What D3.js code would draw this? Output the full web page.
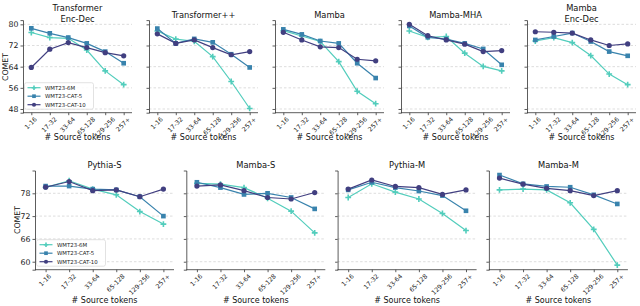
<!DOCTYPE html>
<html>
<head>
<meta charset="utf-8">
<script src="https://cdn.jsdelivr.net/npm/d3@7/dist/d3.min.js"></script>
<style>
  body { margin: 0; background: #fff; }
  svg { display: block; font-family: "DejaVu Sans", sans-serif; }
</style>
</head>
<body>
<svg id="chart" width="640" height="306"></svg>
<script>
// categories and series
var buckets = ["1-16", "17-32", "33-64", "65-128", "129-256", "257+"];
var seriesNames = ["WMT23-6M", "WMT23-CAT-5", "WMT23-CAT-10"];
var colors = ["#52cdbc", "#3983ad", "#413f80"];
var markers = ["plus", "square", "circle"];

// top row
var transEncDec6M  = [76.9, 75.0, 74.7, 70.3, 62.4, 57.2];
var transEncDecC5  = [78.5, 76.6, 75.0, 72.8, 69.7, 65.3];
var transEncDecC10 = [63.7, 70.6, 73.1, 71.2, 69.3, 68.1];

var transPP6M  = [77.5, 74.4, 73.6, 67.8, 58.4, 48.2];
var transPPC5  = [78.4, 72.8, 74.5, 73.2, 68.7, 63.7];
var transPPC10 = [76.4, 72.8, 74.1, 71.2, 68.5, 69.7];

var mamba6M  = [77.6, 75.6, 73.5, 65.9, 54.7, 50.0];
var mambaC5  = [78.1, 76.2, 73.7, 72.8, 65.3, 59.7];
var mambaC10 = [77.0, 74.1, 71.5, 71.2, 66.8, 66.2];

var mambaMHA6M  = [77.5, 75.1, 75.4, 69.1, 64.1, 62.4];
var mambaMHAC5  = [79.4, 75.1, 74.4, 72.8, 70.7, 64.7];
var mambaMHAC10 = [80.0, 75.7, 74.1, 72.5, 69.7, 70.1];

var mambaEncDec6M  = [73.7, 75.0, 73.1, 68.2, 61.2, 57.2];
var mambaEncDecC5  = [74.1, 75.4, 76.7, 73.5, 69.7, 68.1];
var mambaEncDecC10 = [77.2, 77.0, 76.7, 74.1, 72.0, 72.6];

// bottom row
var pythiaS6M  = [79.6, 81.3, 79.1, 77.6, 73.2, 69.9];
var pythiaSC5  = [79.9, 79.9, 79.1, 78.9, 77.1, 72.0];
var pythiaSC10 = [79.6, 81.1, 78.7, 78.9, 77.1, 79.1];

var mambaS6M  = [80.6, 80.4, 79.5, 76.7, 73.3, 67.6];
var mambaSC5  = [80.9, 79.5, 77.7, 78.0, 76.9, 73.9];
var mambaSC10 = [79.9, 80.2, 78.7, 76.9, 76.5, 78.2];

var pythiaM6M  = [76.9, 80.5, 78.3, 76.5, 72.7, 68.2];
var pythiaMC5  = [78.9, 80.9, 79.5, 78.6, 77.4, 73.4];
var pythiaMC10 = [79.1, 81.5, 79.8, 79.5, 77.7, 78.9];

var mambaM6M  = [78.9, 79.1, 78.9, 75.5, 68.5, 59.1];
var mambaMC5  = [82.8, 80.5, 79.8, 79.6, 77.6, 75.2];
var mambaMC10 = [82.0, 80.4, 79.3, 78.7, 77.4, 78.7];

var topTicks = [48, 56, 64, 72, 80];
var bottomTicks = [60, 66, 72, 78];

var topPanels = [
  { title: ["Transformer", "Enc-Dec"], data: [transEncDec6M, transEncDecC5, transEncDecC10], legend: true },
  { title: ["Transformer++"], data: [transPP6M, transPPC5, transPPC10] },
  { title: ["Mamba"], data: [mamba6M, mambaC5, mambaC10] },
  { title: ["Mamba-MHA"], data: [mambaMHA6M, mambaMHAC5, mambaMHAC10] },
  { title: ["Mamba", "Enc-Dec"], data: [mambaEncDec6M, mambaEncDecC5, mambaEncDecC10] }
];
var bottomPanels = [
  { title: ["Pythia-S"], data: [pythiaS6M, pythiaSC5, pythiaSC10], legend: true },
  { title: ["Mamba-S"], data: [mambaS6M, mambaSC5, mambaSC10] },
  { title: ["Pythia-M"], data: [pythiaM6M, pythiaMC5, pythiaMC10] },
  { title: ["Mamba-M"], data: [mambaM6M, mambaMC5, mambaMC10] }
];

var svg = d3.select("#chart");

function drawMarker(g, type, color, size) {
  if (type == "plus") {
    g.append("path")
      .attr("d", "M" + (-size) + ",0H" + size + "M0," + (-size) + "V" + size)
      .attr("stroke", color).attr("stroke-width", 1.6).attr("fill", "none");
  } else if (type == "square") {
    g.append("rect")
      .attr("x", -size * 0.8).attr("y", -size * 0.8)
      .attr("width", size * 1.6).attr("height", size * 1.6)
      .attr("fill", color);
  } else {
    g.append("circle").attr("r", size * 0.9).attr("fill", color);
  }
}

function drawPanel(p, left, width, top, bottom, domain, ticks, showYLabels, titleBase, xlabelBase) {
  var g = svg.append("g");
  var step = width / 5.9;
  var x = d3.scalePoint().domain(buckets).range([left + step * 0.45, left + width - step * 0.45]);
  var y = d3.scaleLinear().domain(domain).range([bottom, top]);

  // grid
  g.selectAll(".grid").data(ticks).enter().append("line")
    .attr("x1", left).attr("x2", left + width)
    .attr("y1", function(d) { return y(d); }).attr("y2", function(d) { return y(d); })
    .attr("stroke", "#cfcfcf").attr("stroke-width", 0.7).attr("stroke-dasharray", "2.5,2");

  // y axis
  var yAxis = d3.axisLeft(y).tickValues(ticks).tickSize(2.5).tickPadding(2)
    .tickFormat(showYLabels ? d3.format("d") : "");
  var ya = g.append("g").attr("transform", "translate(" + left + ",0)").call(yAxis);
  ya.select(".domain").attr("stroke", "#333").attr("stroke-width", 0.8);
  ya.selectAll(".tick line").attr("stroke", "#333").attr("stroke-width", 0.8);
  ya.selectAll("text").attr("font-size", "7.8px").attr("fill", "#222")
    .attr("font-family", "DejaVu Sans");

  // x axis
  var xAxis = d3.axisBottom(x).tickSize(2.5).tickFormat("");
  var xa = g.append("g").attr("transform", "translate(0," + bottom + ")").call(xAxis);
  xa.select(".domain").attr("d", "M" + left + ",0H" + (left + width))
    .attr("stroke", "#333").attr("stroke-width", 0.8);
  xa.selectAll(".tick line").attr("stroke", "#333").attr("stroke-width", 0.8);

  buckets.forEach(function(b) {
    var t = g.append("text").text(b)
      .attr("font-size", "6.3px").attr("fill", "#222")
      .attr("text-anchor", "middle").attr("dominant-baseline", "central");
    var len = t.node().getComputedTextLength();
    var half = (len + 6.3) * 0.7071 / 2;
    t.attr("transform", "translate(" + (x(b) - 0.8) + "," + (bottom + 3 + half) + ") rotate(-45)");
  });

  // title
  var cx = left + width / 2;
  p.title.forEach(function(line, i) {
    g.append("text").text(line)
      .attr("x", cx).attr("y", titleBase[p.title.length - 1] - (p.title.length - 1 - i) * 11)
      .attr("text-anchor", "middle").attr("font-size", "8.3px").attr("fill", "#111");
  });

  // lines
  var line = d3.line().x(function(d, i) { return x(buckets[i]); }).y(function(d) { return y(d); });
  p.data.forEach(function(vals, si) {
    g.append("path").datum(vals).attr("d", line)
      .attr("fill", "none").attr("stroke", colors[si]).attr("stroke-width", 1.2);
    vals.forEach(function(v, i) {
      var m = g.append("g").attr("transform", "translate(" + x(buckets[i]) + "," + y(v) + ")");
      drawMarker(m, markers[si], colors[si], 2.9);
    });
  });

  // x label
  g.append("text").text("# Source tokens")
    .attr("x", cx).attr("y", xlabelBase)
    .attr("text-anchor", "middle").attr("font-size", "8px").attr("fill", "#111");

  // legend
  if (p.legend) {
    var lx = left + 1.5, ly = bottom - 30, lw = 69, lh = 26.5;
    var lg = g.append("g");
    lg.append("rect").attr("x", lx).attr("y", ly).attr("width", lw).attr("height", lh)
      .attr("rx", 2).attr("fill", "#fff").attr("fill-opacity", 0.85)
      .attr("stroke", "#d6d6d6").attr("stroke-width", 0.7);
    seriesNames.forEach(function(name, si) {
      var ey = ly + 5 + si * 8.5;
      lg.append("line").attr("x1", lx + 3).attr("x2", lx + 16).attr("y1", ey).attr("y2", ey)
        .attr("stroke", colors[si]).attr("stroke-width", 1.2);
      var m = lg.append("g").attr("transform", "translate(" + (lx + 9.5) + "," + ey + ")");
      drawMarker(m, markers[si], colors[si], 2.3);
      lg.append("text").text(name).attr("x", lx + 20.5).attr("y", ey)
        .attr("dominant-baseline", "central").attr("font-size", "5.4px").attr("fill", "#222");
    });
  }
  return g;
}

topPanels.forEach(function(p, i) {
  drawPanel(p, 23 + i * 126, 109, 20.1, 112.7, [46.6, 81.6], topTicks, i == 0, [18, 21.5], 140);
});
bottomPanels.forEach(function(p, i) {
  drawPanel(p, 35 + i * 151.3, 139, 170.5, 269.7, [57.9, 84.0], bottomTicks, i == 0, [167.5, 167.5], 303);
});

// y labels
svg.append("text").text("COMET").attr("transform", "translate(7.5,67) rotate(-90)")
  .attr("text-anchor", "middle").attr("font-size", "7.8px").attr("fill", "#111");
svg.append("text").text("COMET").attr("transform", "translate(19.5,220) rotate(-90)")
  .attr("text-anchor", "middle").attr("font-size", "7.8px").attr("fill", "#111");
</script>
</body>
</html>
